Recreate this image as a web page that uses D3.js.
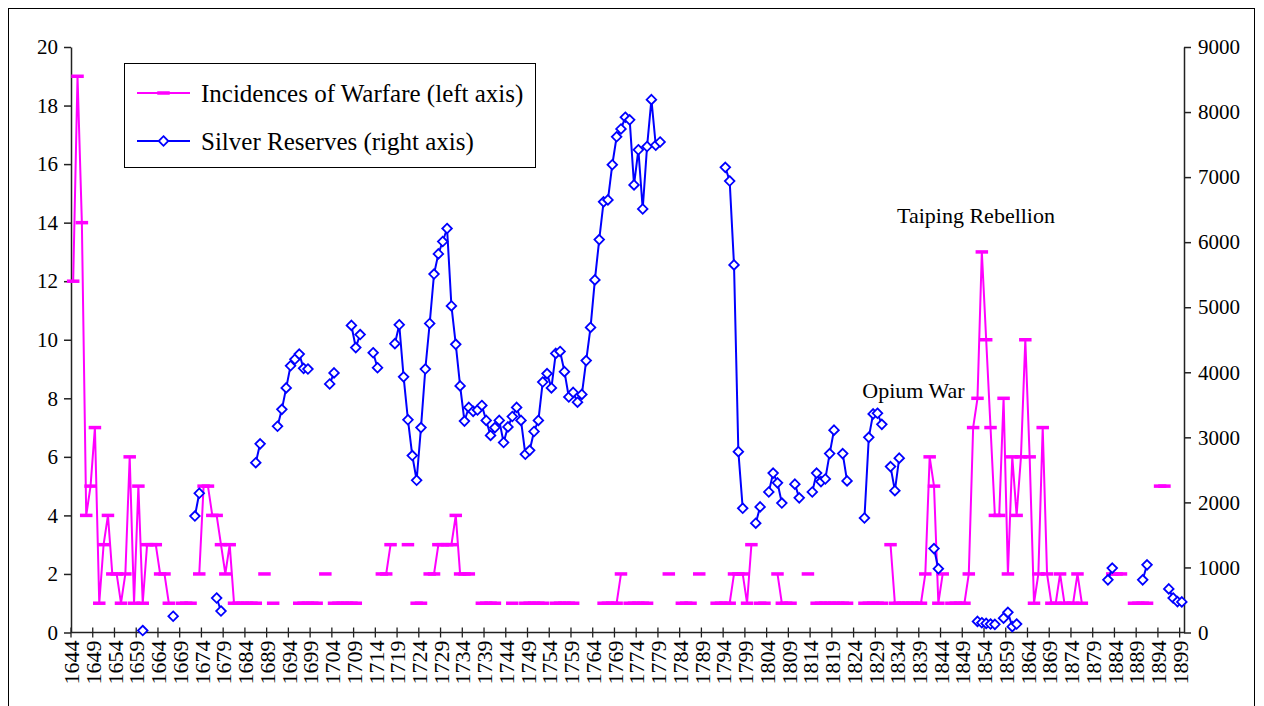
<!DOCTYPE html>
<html>
<head>
<meta charset="utf-8">
<script src="https://cdnjs.cloudflare.com/ajax/libs/d3/7.8.5/d3.min.js"></script>
<style>
body { margin: 0; background: #fff; }
svg text { font-family: "Liberation Serif", "Times New Roman", serif; fill: #000; }
</style>
</head>
<body>
<svg id="chart" width="1264" height="706"></svg>
<script>
// chart data, one value per year 1644..1899 (null = no value)
var firstYear = 1644, lastYear = 1899;

var warfare = [
    12, 19, 14, 4, 5, 7, 1, 3, 4, 2,                 // 1644-1653
    2, 1, 2, 6, 1, 5, 1, 3, 3, 3,                    // 1654-1663
    2, 2, 1, null, null, 1, 1, 1, null, 2,           // 1664-1673
    5, 5, 4, 4, 3, 2, 3, 1, 1, 1,                    // 1674-1683
    1, 1, 1, null, 2, null, 1, null, null, null,     // 1684-1693
    null, null, 1, 1, 1, 1, 1, null, 2, null,        // 1694-1703
    1, 1, 1, 1, 1, 1, null, null, null, null,        // 1704-1713
    null, 2, 2, 3, null, null, null, 3, null, 1,     // 1714-1723
    1, null, 2, 2, 3, 3, 3, 3, 4, 2,                 // 1724-1733
    2, 2, null, null, 1, 1, 1, 1, null, null,        // 1734-1743
    null, 1, null, null, 1, 1, 1, 1, 1, null,        // 1744-1753
    null, 1, 1, 1, 1, 1, null, null, null, null,     // 1754-1763
    null, null, 1, 1, 1, 1, 2, null, 1, 1,           // 1764-1773
    1, 1, 1, null, null, null, null, 2, null, null,  // 1774-1783
    1, 1, 1, null, 2, null, null, null, 1, 1,        // 1784-1793
    1, 1, 2, 2, 2, 1, 3, null, 1, 1,                 // 1794-1803
    null, null, 2, 1, 1, 1, null, null, null, 2,     // 1804-1813
    null, 1, 1, 1, 1, 1, 1, 1, 1, null,              // 1814-1823
    null, null, 1, 1, 1, 1, 1, null, 3, 1,           // 1824-1833
    1, 1, 1, 1, 1, 1, 2, 6, 5, 1,                    // 1834-1843
    2, null, 1, 1, 1, 1, 2, 7, 8, 13,                // 1844-1853
    10, 7, 4, 4, 8, 2, 6, 4, 6, 10,                  // 1854-1863
    6, 1, 2, 7, 2, 1, 1, 2, 1, 1,                    // 1864-1873
    1, 2, 1, null, null, null, null, null, null, 2,  // 1874-1883
    2, 2, null, null, 1, 1, 1, 1, null, null,        // 1884-1893
    5, 5, null, null, null, null                     // 1894-1899
];

var silver = [
    null, null, null, null, null, null, null, null, null, null,  // 1644-1653
    null, null, null, null, null, null, 30, null, null, null,    // 1654-1663
    null, null, null, 250, null, null, null, null, 1790, 2140,   // 1664-1673
    null, null, null, 530, 330, null, null, null, null, null,    // 1674-1683
    null, null, 2610, 2900, null, null, null, 3170, 3430, 3760,  // 1684-1693
    4100, 4200, 4280, 4060, 4050, null, null, null, null, 3820,  // 1694-1703
    3990, null, null, null, 4720, 4380, 4580, null, null, 4300,  // 1704-1713
    4070, null, null, null, 4440, 4730, 3930, 3270, 2720, 2340,  // 1714-1723
    3150, 4050, 4750, 5510, 5820, 6010, 6210, 5020, 4430, 3790,  // 1724-1733
    3250, 3460, 3400, 3420, 3490, 3260, 3030, 3150, 3260, 2920,  // 1734-1743
    3160, 3320, 3460, 3260, 2740, 2800, 3090, 3260, 3850, 3980,  // 1744-1753
    3760, 4290, 4320, 4010, 3620, 3690, 3540, 3660, 4180, 4690,  // 1754-1763
    5420, 6040, 6620, 6650, 7190, 7620, 7740, 7920, 7880, 6880,  // 1764-1773
    7420, 6510, 7470, 8190, 7490, 7540, null, null, null, null,  // 1774-1783
    null, null, null, null, null, null, null, null, null, null,  // 1784-1793
    7150, 6940, 5650, 2780, 1910, null, null, 1680, 1930, null,  // 1794-1803
    2160, 2450, 2300, 1990, null, null, 2280, 2070, null, null,  // 1804-1813
    2160, 2450, 2320, 2360, 2750, 3110, null, 2750, 2330, null,  // 1814-1823
    null, null, 1760, 3000, 3360, 3370, 3200, null, 2550, 2180,  // 1824-1833
    2680, null, null, null, null, null, null, null, 1290, 980,   // 1834-1843
    null, null, null, null, null, null, null, null, 170, 150,    // 1844-1853
    140, 130, 125, null, 220, 310, 90, 130, null, null,          // 1854-1863
    null, null, null, null, null, null, null, null, null, null,  // 1864-1873
    null, null, null, null, null, null, null, null, 810, 990,    // 1874-1883
    null, null, null, null, null, null, 810, 1040, null, null,   // 1884-1893
    null, null, 670, 530, 475, 470                               // 1894-1899
];

var leftTicks = [0, 2, 4, 6, 8, 10, 12, 14, 16, 18, 20];
var rightTicks = [0, 1000, 2000, 3000, 4000, 5000, 6000, 7000, 8000, 9000];
var seriesNames = ["Incidences of Warfare (left axis)", "Silver Reserves (right axis)"];
var noteTexts = ["Taiping Rebellion", "Opium War"];
var noteYears = [1834, 1826];   // left edge of the label
var noteLevels = [14, 8];       // left-axis value at the label baseline

var WAR_COLOR = "#ff00ff", SILVER_COLOR = "#0000ff";
var X0 = 71, X1 = 1184, Y0 = 632.5, Y1 = 47;

var years = d3.range(firstYear, lastYear + 1);
var warData = years.map(function(d, i) { return {year: d, v: warfare[i]}; });
var silverData = years.map(function(d, i) { return {year: d, v: silver[i]}; });

var x = d3.scaleBand().domain(years).range([X0, X1]);
var bw = x.bandwidth();
function cx(yr) { return x(yr) + bw / 2; }
var yL = d3.scaleLinear().domain([0, 20]).range([Y0, Y1]);
var yR = d3.scaleLinear().domain([0, 9000]).range([Y0, Y1]);

var svg = d3.select("#chart");

// outer chart frame (bottom edge falls off the picture)
svg.append("rect")
    .attr("x", 8.5).attr("y", 8.5)
    .attr("width", 1246).attr("height", 730)
    .attr("fill", "none")
    .attr("stroke", "#000")
    .attr("stroke-width", 1);

// left axis
var gLeft = svg.append("g")
    .attr("transform", "translate(" + X0 + ",0)")
    .call(d3.axisLeft(yL).tickValues(leftTicks).tickSize(7).tickSizeOuter(0).tickPadding(6));
// right axis
var gRight = svg.append("g")
    .attr("transform", "translate(" + X1 + ",0)")
    .call(d3.axisRight(yR).tickValues(rightTicks).tickFormat(d3.format("d"))
        .tickSize(7).tickSizeOuter(0).tickPadding(7));

[gLeft, gRight].forEach(function(g) {
    g.attr("font-family", null).attr("font-size", null);
    g.selectAll("path, line").attr("stroke", "#222").attr("stroke-width", 1.5);
    g.selectAll("text").style("font-size", "21px");
});

// bottom (category) axis - ticks every 5 years on category edges
var tickYears = years.filter(function(d) { return (d - firstYear) % 5 == 0; });
var gBottom = svg.append("g");
gBottom.append("line")
    .attr("x1", X0).attr("x2", X1)
    .attr("y1", Y0).attr("y2", Y0)
    .attr("stroke", "#222").attr("stroke-width", 1.5);
gBottom.selectAll("line.tick")
    .data(tickYears)
    .enter()
    .append("line")
    .attr("class", "tick")
    .attr("x1", function(d) { return x(d); })
    .attr("x2", function(d) { return x(d); })
    .attr("y1", Y0 - 5).attr("y2", Y0 + 5)
    .attr("stroke", "#222").attr("stroke-width", 1.3);
gBottom.selectAll("text")
    .data(tickYears)
    .enter()
    .append("text")
    .attr("transform", function(d) {
        return "translate(" + (x(d) + 0.5) + "," + (Y0 + 8) + ") rotate(-90)";
    })
    .attr("text-anchor", "end")
    .attr("dy", "0.35em")
    .style("font-size", "22px")
    .text(function(d) { return d; });

// warfare series
var warLine = d3.line()
    .defined(function(d) { return d.v != null; })
    .x(function(d) { return cx(d.year); })
    .y(function(d) { return yL(d.v); });

svg.append("path")
    .datum(warData)
    .attr("d", warLine)
    .attr("fill", "none")
    .attr("stroke", WAR_COLOR)
    .attr("stroke-width", 2);

svg.append("g")
    .selectAll("rect")
    .data(warData.filter(function(d) { return d.v != null; }))
    .enter()
    .append("rect")
    .attr("x", function(d) { return cx(d.year) - 6.25; })
    .attr("y", function(d) { return yL(d.v) - 1.75; })
    .attr("width", 12.5)
    .attr("height", 3.5)
    .attr("fill", WAR_COLOR);

// silver series
var silverLine = d3.line()
    .defined(function(d) { return d.v != null; })
    .x(function(d) { return cx(d.year); })
    .y(function(d) { return yR(d.v); });

svg.append("path")
    .datum(silverData)
    .attr("d", silverLine)
    .attr("fill", "none")
    .attr("stroke", SILVER_COLOR)
    .attr("stroke-width", 2);

var diamond = "M0,-4.8L4.8,0L0,4.8L-4.8,0Z";
svg.append("g")
    .selectAll("path")
    .data(silverData.filter(function(d) { return d.v != null; }))
    .enter()
    .append("path")
    .attr("d", diamond)
    .attr("transform", function(d) { return "translate(" + cx(d.year) + "," + yR(d.v) + ")"; })
    .attr("fill", "#fff")
    .attr("stroke", SILVER_COLOR)
    .attr("stroke-width", 1.8);

// annotations
svg.append("g")
    .selectAll("text")
    .data(noteTexts)
    .enter()
    .append("text")
    .attr("x", function(d, i) { return x(noteYears[i]); })
    .attr("y", function(d, i) { return yL(noteLevels[i]); })
    .style("font-size", "22px")
    .text(function(d) { return d; });

// legend
var legend = svg.append("g").attr("transform", "translate(124,63)");
legend.append("rect")
    .attr("x", 0.5).attr("y", 0.5)
    .attr("width", 411).attr("height", 104)
    .attr("fill", "#fff")
    .attr("stroke", "#000");

var rows = legend.selectAll("g.row")
    .data(seriesNames)
    .enter()
    .append("g")
    .attr("class", "row")
    .attr("transform", function(d, i) { return "translate(0," + (30 + i * 48) + ")"; });

rows.append("line")
    .attr("x1", 13).attr("x2", 66)
    .attr("stroke", function(d, i) { return i == 0 ? WAR_COLOR : SILVER_COLOR; })
    .attr("stroke-width", 2);

rows.filter(function(d, i) { return i == 0; })
    .append("rect")
    .attr("x", 39.5 - 6.25).attr("y", -1.75)
    .attr("width", 12.5).attr("height", 3.5)
    .attr("fill", WAR_COLOR);

rows.filter(function(d, i) { return i == 1; })
    .append("path")
    .attr("d", diamond)
    .attr("transform", "translate(39.5,0)")
    .attr("fill", "#fff")
    .attr("stroke", SILVER_COLOR)
    .attr("stroke-width", 1.8);

rows.append("text")
    .attr("x", 77)
    .attr("dy", "0.35em")
    .style("font-size", "25px")
    .text(function(d) { return d; });
</script>
</body>
</html>
